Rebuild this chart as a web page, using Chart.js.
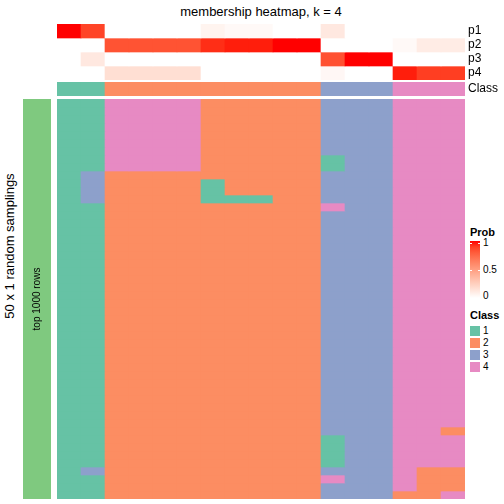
<!DOCTYPE html>
<html>
<head>
<meta charset="utf-8">
<script src="https://cdn.jsdelivr.net/npm/chart.js@4.4.0/dist/chart.umd.min.js"></script>
<style>
  html, body { margin: 0; padding: 0; background: #fff; }
  body { width: 504px; height: 504px; position: relative; overflow: hidden;
         font-family: "Liberation Sans", Arial, sans-serif; color: #000; }
  canvas { position: absolute; }
  .txt { position: absolute; white-space: nowrap; line-height: 1; }
  .rot { transform: rotate(-90deg); text-align: center; }
  .sw { position: absolute; left: 470px; width: 10px; height: 10px; }
  .tick { position: absolute; width: 2px; height: 1px; background: #fff; }
</style>
</head>
<body>
<div class="txt" style="left:161px; top:5px; width:200px; text-align:center; font-size:13px;">membership heatmap, k = 4</div>
<div class="txt rot" style="left:-90px; top:239px; width:200px; height:14px; line-height:14px; font-size:13px;">50 x 1 random samplings</div>

<canvas id="probChart" width="447" height="56" style="left:57px; top:24px;"></canvas>
<canvas id="classChart" width="447" height="14" style="left:57px; top:82px;"></canvas>
<canvas id="sideChart" width="28" height="400" style="left:23px; top:99px;"></canvas>
<canvas id="mainChart" width="408" height="400" style="left:57px; top:99px;"></canvas>
<div class="txt rot" style="left:-23px; top:293px; width:120px; height:12px; line-height:12px; font-size:10px;">top 1000 rows</div>

<!-- legends -->
<div class="txt" style="left:470px; top:227px; font-size:11px; font-weight:bold;">Prob</div>
<div id="gradBar" style="position:absolute; left:470px; top:241px; width:10px; height:57px;"></div>
<div class="tick" style="left:470px; top:243px;"></div><div class="tick" style="left:478px; top:243px;"></div>
<div class="tick" style="left:470px; top:270px;"></div><div class="tick" style="left:478px; top:270px;"></div>
<div class="txt" style="left:483px; top:238px; font-size:10px;">1</div>
<div class="txt" style="left:483px; top:265px; font-size:10px;">0.5</div>
<div class="txt" style="left:483px; top:291px; font-size:10px;">0</div>

<div class="txt" style="left:470px; top:310px; font-size:11px; font-weight:bold;">Class</div>
<div id="classLegend"></div>

<script>
// column count: 17 samples
const probRows = ['p1', 'p2', 'p3', 'p4'];
const p1 = [1, 0.88, 0, 0, 0, 0, 0.06, 0.03, 0.03, 0, 0, 0.12, 0, 0, 0, 0, 0];
const p2 = [0, 0, 0.83, 0.83, 0.83, 0.83, 0.94, 0.97, 0.97, 1, 1, 0, 0, 0, 0.03, 0.1, 0.1];
const p3 = [0, 0.12, 0, 0, 0, 0, 0, 0, 0, 0, 0, 0.84, 1, 1, 0, 0, 0];
const p4 = [0, 0, 0.17, 0.17, 0.17, 0.17, 0, 0, 0, 0, 0, 0.04, 0, 0, 0.97, 0.9, 0.9];
const classRow = [1, 1, 2, 2, 2, 2, 2, 2, 2, 2, 2, 3, 3, 3, 4, 4, 4];

// 50 random samplings, one string per row, one digit (class) per column
const samplings = [
  '11444422222333444', '11444422222333444', '11444422222333444', '11444422222333444',
  '11444422222333444', '11444422222333444', '11444422222333444', '11444422222133444',
  '11444422222133444', '13222222222333444', '13222212222333444', '13222212222333444',
  '13222211122333444', '11222222222433444', '11222222222333444', '11222222222333444',
  '11222222222333444', '11222222222333444', '11222222222333444', '11222222222333444',
  '11222222222333444', '11222222222333444', '11222222222333444', '11222222222333444',
  '11222222222333444', '11222222222333444', '11222222222333444', '11222222222333444',
  '11222222222333444', '11222222222333444', '11222222222333444', '11222222222333444',
  '11222222222333444', '11222222222333444', '11222222222333444', '11222222222333444',
  '11222222222333444', '11222222222333444', '11222222222333444', '11222222222333444',
  '11222222222333444', '11222222222333442', '11222222222133444', '11222222222133444',
  '11222222222133444', '11222222222133444', '13222222222333422', '11222222222433422',
  '11222222222333422', '11222222222333224'
];

const classNames = ['1', '2', '3', '4'];
const classColors = { 1: '#66C2A5', 2: '#FC8D62', 3: '#8DA0CB', 4: '#E78AC3' };
const sideColor = '#7FC97F';

Chart.defaults.font.family = '"Liberation Sans", Arial, sans-serif';
Chart.defaults.color = '#000';

// white -> red, interpolated in Lab like colorRamp2
function toLin(c) { c /= 255; return c <= 0.04045 ? c / 12.92 : Math.pow((c + 0.055) / 1.055, 2.4); }
function toSrgb(c) { c = c <= 0.0031308 ? 12.92 * c : 1.055 * Math.pow(c, 1 / 2.4) - 0.055; return Math.round(Math.min(1, Math.max(0, c)) * 255); }
function rgbToLab(rgb) {
  const [r, g, b] = rgb.map(toLin);
  const x = (0.4124 * r + 0.3576 * g + 0.1805 * b) / 0.95047;
  const y = (0.2126 * r + 0.7152 * g + 0.0722 * b);
  const z = (0.0193 * r + 0.1192 * g + 0.9505 * b) / 1.08883;
  const f = t => t > 0.008856 ? Math.cbrt(t) : 7.787 * t + 16 / 116;
  return [116 * f(y) - 16, 500 * (f(x) - f(y)), 200 * (f(y) - f(z))];
}
function labToRgb(lab) {
  const fy = (lab[0] + 16) / 116, fx = fy + lab[1] / 500, fz = fy - lab[2] / 200;
  const fi = t => t > 0.206893 ? t * t * t : (t - 16 / 116) / 7.787;
  const x = fi(fx) * 0.95047, y = fi(fy), z = fi(fz) * 1.08883;
  const r = 3.2406 * x - 1.5372 * y - 0.4986 * z;
  const g = -0.9689 * x + 1.8758 * y + 0.0415 * z;
  const b = 0.0557 * x - 0.2040 * y + 1.0570 * z;
  return [toSrgb(r), toSrgb(g), toSrgb(b)];
}
const LAB0 = rgbToLab([255, 255, 255]);
const LAB1 = rgbToLab([255, 0, 0]);
function probColor(v) {
  const lab = LAB0.map((c, i) => c + (LAB1[i] - c) * v);
  return 'rgb(' + labToRgb(lab).join(',') + ')';
}

const cols = classRow.map((_, j) => 'S' + (j + 1));

function cellDataset(row, colors) {
  return {
    data: cols.map(() => [row, row + 1]),
    backgroundColor: colors,
    borderWidth: 0,
    grouped: false,
    barPercentage: 1,
    categoryPercentage: 1
  };
}

const baseOpts = {
  responsive: false,
  animation: false,
  devicePixelRatio: 1,
  layout: { padding: 0 },
  plugins: { legend: { display: false }, tooltip: { enabled: false } },
  events: []
};

function rowAxis(names) {
  return {
    type: 'linear', position: 'right', reverse: true, min: 0, max: names.length,
    grid: { display: false, drawTicks: false }, border: { display: false },
    afterFit: s => { s.width = 39; s.paddingTop = 0; s.paddingBottom = 0; },
    afterBuildTicks: s => { s.ticks = names.map((_, i) => ({ value: i + 0.5 })); },
    ticks: { padding: 3, autoSkip: false, font: { size: 12 }, callback: (v, i) => names[i] }
  };
}

// probability rows
new Chart(document.getElementById('probChart'), {
  type: 'bar',
  data: {
    labels: cols,
    datasets: [p1, p2, p3, p4].map((vals, i) => cellDataset(i, vals.map(probColor)))
  },
  options: { ...baseOpts, scales: { x: { display: false }, y: rowAxis(probRows) } }
});

// class annotation row
new Chart(document.getElementById('classChart'), {
  type: 'bar',
  data: { labels: cols, datasets: [cellDataset(0, classRow.map(c => classColors[c]))] },
  options: { ...baseOpts, scales: { x: { display: false }, y: rowAxis(['Class']) } }
});

// main membership heatmap
new Chart(document.getElementById('mainChart'), {
  type: 'bar',
  data: {
    labels: cols,
    datasets: samplings.map((s, r) => cellDataset(r, s.split('').map(c => classColors[c])))
  },
  options: {
    ...baseOpts,
    scales: {
      x: { display: false },
      y: { display: false, type: 'linear', reverse: true, min: 0, max: samplings.length }
    }
  }
});

// left row annotation
new Chart(document.getElementById('sideChart'), {
  type: 'bar',
  data: { labels: ['top 1000 rows'], datasets: [{ data: [[0, 1]], backgroundColor: sideColor, borderWidth: 0, barPercentage: 1, categoryPercentage: 1 }] },
  options: { ...baseOpts, scales: { x: { display: false }, y: { display: false, min: 0, max: 1 } } }
});

// legends
const stops = [];
for (let k = 0; k <= 10; k++) stops.push(probColor(1 - k / 10) + ' ' + (k * 10) + '%');
document.getElementById('gradBar').style.background = 'linear-gradient(to bottom, ' + stops.join(', ') + ')';

const leg = document.getElementById('classLegend');
classNames.forEach((name, i) => {
  const sw = document.createElement('div');
  sw.className = 'sw';
  sw.style.top = (326 + i * 12) + 'px';
  sw.style.background = classColors[name];
  leg.appendChild(sw);
  const t = document.createElement('div');
  t.className = 'txt';
  t.style.cssText = 'left:483px; font-size:10px; top:' + (326 + i * 12) + 'px;';
  t.textContent = name;
  leg.appendChild(t);
});
</script>
</body>
</html>
